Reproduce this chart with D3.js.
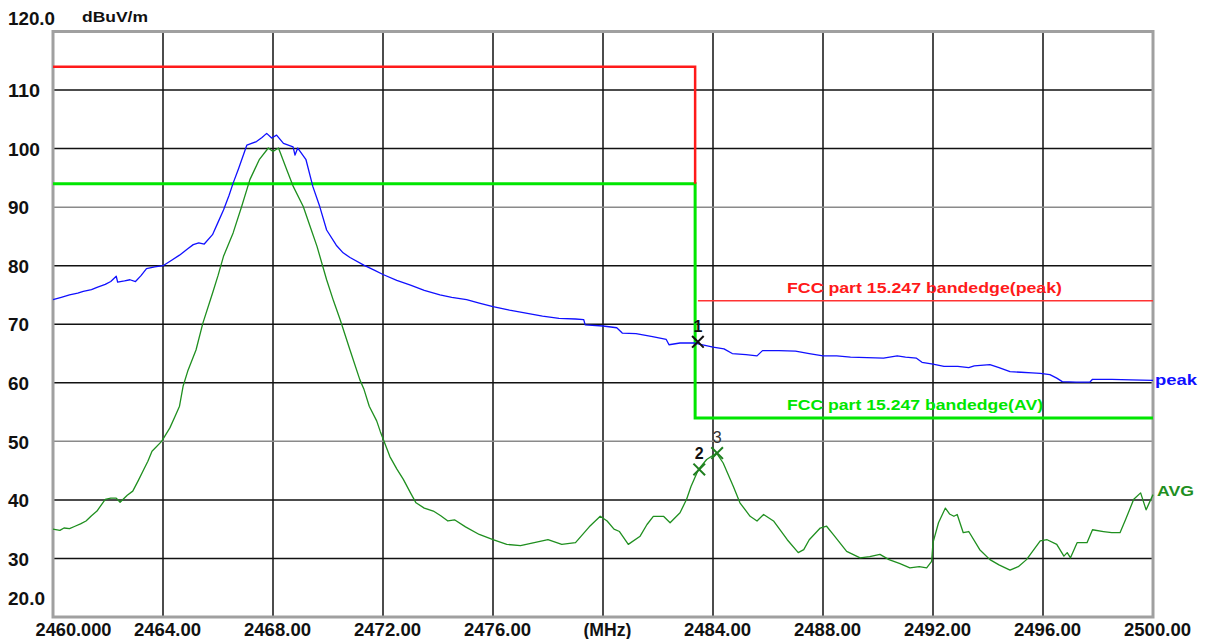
<!DOCTYPE html>
<html>
<head>
<meta charset="utf-8">
<script src="https://cdn.jsdelivr.net/npm/d3@7"></script>
<style>
  html, body { margin: 0; padding: 0; background: #fff; }
  svg { display: block; }
  text { font-family: "Liberation Sans", Arial, sans-serif; font-weight: bold; }
</style>
</head>
<body>
<svg id="chart" width="1205" height="639"></svg>
<script>
// ---------------- DATA ----------------
const xTickValues = [2460, 2464, 2468, 2472, 2476, 2480, 2484, 2488, 2492, 2496, 2500];
const xTickLabels = ["2460.000", "2464.00", "2468.00", "2472.00", "2476.00", "(MHz)", "2484.00", "2488.00", "2492.00", "2496.00", "2500.00"];
const yTickValues = [120, 110, 100, 90, 80, 70, 60, 50, 40, 30, 20];
const yTickLabels = ["120.0", "110", "100", "90", "80", "70", "60", "50", "40", "30", "20.0"];
const yUnit = "dBuV/m";

const peakFreq = [2460.0,2460.3,2460.6,2460.9,2461.1,2461.4,2461.6,2461.9,2462.1,2462.3,2462.35,2462.6,2462.8,2463.0,2463.2,2463.4,2463.7,2464.0,2464.3,2464.6,2464.9,2465.1,2465.3,2465.5,2465.8,2466.0,2466.2,2466.4,2466.55,2466.75,2466.9,2467.05,2467.4,2467.6,2467.77,2467.95,2468.13,2468.38,2468.73,2468.8,2468.9,2469.2,2469.45,2469.7,2469.95,2470.3,2470.55,2470.8,2471.3,2471.7,2472.0,2472.5,2473.0,2473.5,2474.07,2474.5,2475.04,2475.5,2476.0,2476.6,2477.2,2477.8,2478.4,2479.0,2479.3,2479.35,2480.0,2480.5,2480.7,2481.2,2481.8,2482.3,2482.4,2482.8,2483.3,2483.5,2484.0,2484.4,2484.7,2485.2,2485.6,2485.8,2486.4,2487.0,2487.5,2488.0,2488.5,2489.0,2489.6,2490.2,2490.7,2491.0,2491.4,2491.6,2492.0,2492.4,2492.9,2493.3,2493.5,2494.07,2494.4,2494.8,2495.2,2495.6,2495.9,2496.25,2496.5,2496.7,2497.2,2497.7,2497.8,2498.5,2499.2,2500.0];
const peakLevel = [74.2,74.6,75.0,75.3,75.6,75.9,76.3,76.8,77.3,78.2,77.2,77.4,77.6,77.3,78.3,79.5,79.8,80.0,80.9,81.8,82.9,83.6,83.9,83.7,85.3,87.4,89.5,92.0,94.1,96.6,98.6,100.6,101.2,101.9,102.6,101.8,102.3,100.9,100.3,98.9,100.1,98.1,93.5,90.1,86.1,83.5,82.2,81.4,80.1,79.2,78.5,77.5,76.7,75.8,75.0,74.6,74.2,73.6,73.0,72.4,71.9,71.4,71.0,70.9,70.8,69.9,69.7,69.4,68.5,68.4,67.9,67.4,66.5,66.8,66.8,66.6,66.1,65.8,65.0,64.8,64.6,65.5,65.5,65.4,65.0,64.6,64.6,64.4,64.3,64.2,64.6,64.4,64.2,63.5,63.2,62.8,62.8,62.6,62.9,63.1,62.6,61.9,61.8,61.7,61.6,61.4,60.8,60.2,60.1,60.1,60.6,60.6,60.5,60.4];

const avgFreq = [2460.0,2460.25,2460.4,2460.6,2460.8,2461.0,2461.2,2461.4,2461.6,2461.9,2462.1,2462.3,2462.44,2462.7,2462.9,2463.1,2463.3,2463.45,2463.6,2463.95,2464.25,2464.44,2464.6,2464.73,2464.9,2465.2,2465.45,2465.8,2466.0,2466.2,2466.55,2466.86,2467.16,2467.5,2467.83,2468.0,2468.2,2468.5,2468.74,2469.1,2469.35,2469.6,2469.95,2470.2,2470.44,2470.8,2471.16,2471.3,2471.5,2471.77,2471.9,2472.25,2472.5,2472.74,2473.0,2473.2,2473.5,2473.83,2474.1,2474.36,2474.6,2475.0,2475.5,2476.0,2476.5,2477.0,2477.5,2478.0,2478.5,2479.0,2479.5,2479.9,2480.15,2480.4,2480.6,2480.92,2481.35,2481.6,2481.83,2482.2,2482.44,2482.8,2483.04,2483.2,2483.47,2483.77,2484.13,2484.37,2484.74,2484.98,2485.35,2485.6,2485.84,2486.2,2486.7,2487.1,2487.3,2487.5,2487.9,2488.13,2488.37,2488.86,2489.35,2489.7,2490.07,2490.4,2490.8,2491.16,2491.5,2491.77,2491.95,2492.0,2492.2,2492.45,2492.6,2492.76,2492.88,2493.1,2493.3,2493.7,2494.07,2494.4,2494.8,2495.1,2495.4,2495.9,2496.15,2496.5,2496.76,2496.88,2497.0,2497.24,2497.6,2497.8,2498.2,2498.5,2498.8,2499.0,2499.3,2499.55,2499.75,2500.0];
const avgLevel = [35.0,34.8,35.2,35.1,35.5,35.9,36.4,37.3,38.1,40.1,40.3,40.3,39.6,40.8,41.5,43.3,45.2,46.6,48.3,50.0,52.3,54.3,56.0,59.4,62.0,65.6,70.2,75.3,78.3,81.6,85.6,90.1,94.7,98.1,100.1,99.5,100.1,96.4,93.5,90.1,86.7,83.3,77.6,74.0,70.8,65.6,60.5,59.0,56.0,53.5,51.7,47.4,45.3,43.5,41.2,39.5,38.6,38.1,37.3,36.4,36.6,35.4,34.1,33.2,32.4,32.2,32.7,33.2,32.4,32.7,35.4,37.2,36.4,35.0,34.6,32.4,33.8,35.8,37.2,37.2,36.1,37.8,40.1,42.3,45.2,46.9,48.0,46.3,42.3,39.5,37.2,36.4,37.5,36.4,33.2,31.0,31.5,33.2,35.2,35.5,34.1,31.2,30.1,30.3,30.7,29.8,29.1,28.4,28.6,28.4,29.5,32.7,36.1,38.6,37.6,37.2,37.5,34.4,34.6,31.5,29.8,28.9,28.0,28.6,29.8,33.0,33.2,32.4,30.4,31.0,30.1,32.7,32.7,34.9,34.6,34.4,34.4,36.6,40.1,41.2,38.3,40.9];

// Limit lines (frequency, level)
const peakLimitFreq = [2460, 2483.35, 2483.35];
const peakLimitLevel = [114, 114, 94];
const avgLimitFreq = [2460, 2483.35, 2483.35, 2500];
const avgLimitLevel = [94, 94, 54, 54];
const bandedgePeakFreq = [2483.45, 2500];
const bandedgePeakLevel = [74, 74];
const bandedgePeakLabel = "FCC part 15.247 bandedge(peak)";
const bandedgeAvLabel = "FCC part 15.247 bandedge(AV)";

// Markers
const markerNames = ["1", "2", "3"];
const markerFreq = [2483.45, 2483.5, 2484.15];
const markerLevel = [67.0, 45.2, 48.0];

const traceNames = ["peak", "AVG"];

// ---------------- DRAW ----------------
const svg = d3.select("#chart");
const x = d3.scaleLinear().domain([2460, 2500]).range([53, 1153]);
const y = d3.scaleLinear().domain([20, 120]).range([617, 31.5]);

const zip = (fs, ls) => fs.map((f, i) => [f, ls[i]]);
const line = d3.line().x(d => x(d[0])).y(d => y(d[1]));

// grid
const grid = svg.append("g");
grid.selectAll("line.v").data(xTickValues.slice(1, -1)).join("line")
  .attr("x1", d => x(d)).attr("x2", d => x(d))
  .attr("y1", y(120)).attr("y2", y(20))
  .attr("stroke", "#111").attr("stroke-width", 1.5);
grid.selectAll("line.h").data(yTickValues.slice(1, -1)).join("line")
  .attr("x1", x(2460)).attr("x2", x(2500))
  .attr("y1", d => y(d)).attr("y2", d => y(d))
  .attr("stroke", d => (d === 90 || d === 50) ? "#8a8a8a" : "#111")
  .attr("stroke-width", 1.5);

// frame
svg.append("rect")
  .attr("x", x(2460)).attr("y", y(120))
  .attr("width", x(2500) - x(2460)).attr("height", y(20) - y(120))
  .attr("fill", "none").attr("stroke", "#a0a0a0").attr("stroke-width", 3);

// x axis labels
const xAxis = d3.axisBottom(x).tickValues(xTickValues)
  .tickFormat((d, i) => xTickLabels[i]).tickSize(0).tickPadding(0);
const gx = svg.append("g").attr("transform", `translate(0, ${y(20)})`).call(xAxis);
gx.select(".domain").remove();
gx.selectAll("text")
  .attr("fill", "#111")
  .style("font-size", "18.5px")
  .style("font-family", '"Liberation Sans", Arial, sans-serif')
  .style("font-weight", "bold")
  .attr("y", 18.5)
  .attr("dy", 0)
  .attr("dx", (d, i) => i === 0 ? 20 : 4)
  .attr("textLength", (d, i) => i === 0 ? 76 : (i === 5 ? 48 : 67))
  .attr("lengthAdjust", "spacingAndGlyphs");

// y axis labels
const yAxis = d3.axisLeft(y).tickValues(yTickValues)
  .tickFormat((d, i) => yTickLabels[i]).tickSize(0).tickPadding(0);
const gy = svg.append("g").attr("transform", `translate(8, 0)`).call(yAxis);
gy.select(".domain").remove();
gy.selectAll("text")
  .attr("text-anchor", "start")
  .attr("x", 0)
  .attr("fill", "#111")
  .style("font-size", "18.5px")
  .style("font-family", '"Liberation Sans", Arial, sans-serif')
  .style("font-weight", "bold")
  .attr("dy", "0.36em")
  .attr("transform", (d) => d === 120 ? "translate(0,-14)" : (d === 20 ? "translate(0,-19)" : null))
  .attr("textLength", (d, i) => yTickLabels[i].length === 5 ? 47 : (yTickLabels[i].length === 4 ? 37 : (yTickLabels[i].length === 3 ? 32 : 21)))
  .attr("lengthAdjust", "spacingAndGlyphs");

svg.append("text").text(yUnit)
  .attr("x", 82).attr("y", 22)
  .attr("fill", "#111").style("font-size", "14px")
  .attr("textLength", 66).attr("lengthAdjust", "spacingAndGlyphs");

// limit lines
svg.append("path").datum(zip(avgLimitFreq, avgLimitLevel))
  .attr("d", line).attr("fill", "none").attr("stroke", "#00e600").attr("stroke-width", 3);
svg.append("path").datum(zip(peakLimitFreq, peakLimitLevel))
  .attr("d", line).attr("fill", "none").attr("stroke", "#ff1a1a").attr("stroke-width", 2.5);
svg.append("path").datum(zip(bandedgePeakFreq, bandedgePeakLevel))
  .attr("d", line).attr("fill", "none").attr("stroke", "#ff3333").attr("stroke-width", 1.5);

// limit labels
svg.append("text").text(bandedgePeakLabel)
  .attr("x", 787).attr("y", 293).attr("fill", "#ff1a1a").style("font-size", "15px")
  .attr("textLength", 275).attr("lengthAdjust", "spacingAndGlyphs");
svg.append("text").text(bandedgeAvLabel)
  .attr("x", 787).attr("y", 410).attr("fill", "#00e600").style("font-size", "15px")
  .attr("textLength", 256).attr("lengthAdjust", "spacingAndGlyphs");

// traces
svg.append("path").datum(zip(avgFreq, avgLevel))
  .attr("d", line).attr("fill", "none").attr("stroke", "#1f8f1f").attr("stroke-width", 1.3)
  .attr("stroke-linejoin", "round");
svg.append("path").datum(zip(peakFreq, peakLevel))
  .attr("d", line).attr("fill", "none").attr("stroke", "#1010ff").attr("stroke-width", 1.3)
  .attr("stroke-linejoin", "round");

// trace names
svg.append("text").text(traceNames[0])
  .attr("x", 1155).attr("y", 385).attr("fill", "#1010ff").style("font-size", "14px")
  .attr("textLength", 42).attr("lengthAdjust", "spacingAndGlyphs");
svg.append("text").text(traceNames[1])
  .attr("x", 1157).attr("y", 496).attr("fill", "#1f8f1f").style("font-size", "14px")
  .attr("textLength", 37).attr("lengthAdjust", "spacingAndGlyphs");

// markers
const sym = d3.symbol().type(d3.symbolTimes).size(90);
const markerColors = ["#111", "#1f7f1f", "#1f7f1f"];
markerNames.forEach((name, i) => {
  svg.append("path")
    .attr("d", sym)
    .attr("transform", `translate(${x(markerFreq[i])}, ${y(markerLevel[i])})`)
    .attr("fill", "none").attr("stroke", markerColors[i]).attr("stroke-width", 2);
  svg.append("text").text(name)
    .attr("x", x(markerFreq[i])).attr("y", y(markerLevel[i]) - 10)
    .attr("text-anchor", "middle")
    .attr("fill", i === 2 ? "#333" : "#111")
    .style("font-size", "16px")
    .style("font-weight", i === 2 ? "normal" : "bold");
});
</script>
</body>
</html>
